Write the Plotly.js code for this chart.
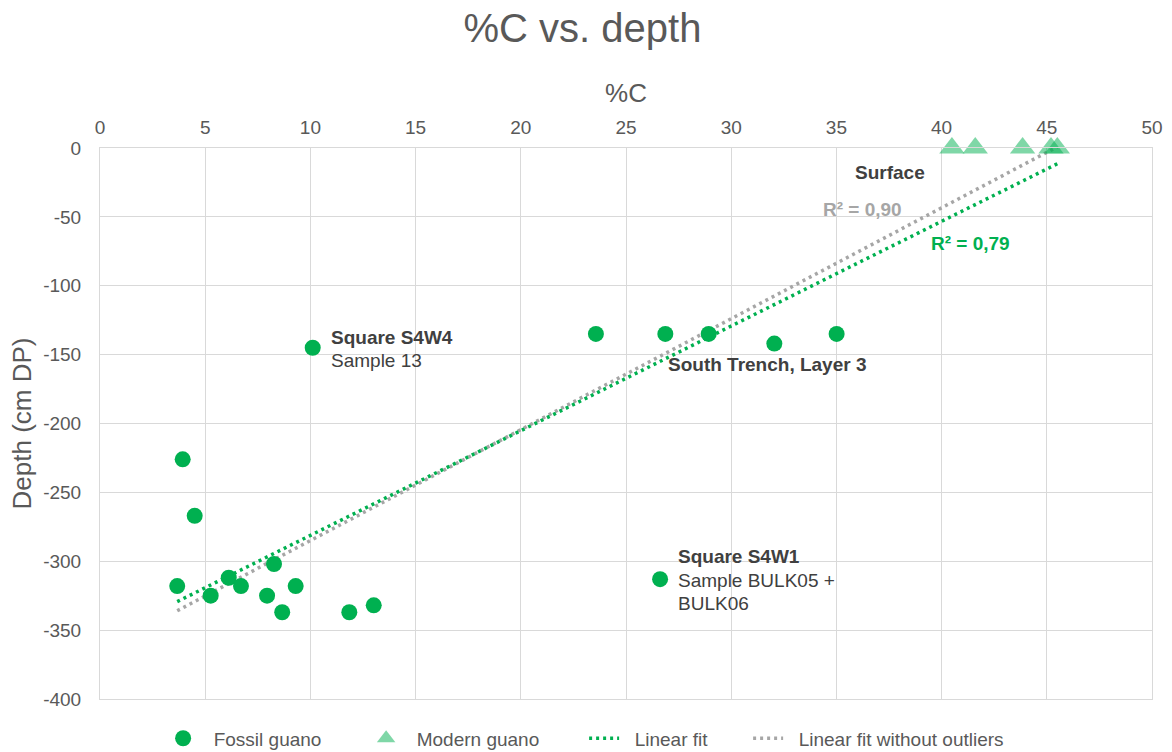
<!DOCTYPE html>
<html>
<head>
<meta charset="utf-8">
<script src="https://cdn.plot.ly/plotly-3.0.1.min.js"></script>
<style>
html,body{margin:0;padding:0;background:#ffffff;}
#chart{width:1172px;height:752px;}
</style>
</head>
<body>
<div id="chart"></div>
<script>
// ---- Data ----
const fossilCarbon = [3.93, 4.50, 3.67, 5.26, 6.12, 6.70, 8.27, 7.94, 8.66, 9.30, 11.85, 13.01, 10.11, 23.57, 26.87, 28.93, 32.05, 35.01, 26.62];
const fossilDepth  = [-226, -267, -318, -325, -312, -318, -302, -325, -337, -318, -337, -332, -145, -135, -135, -135, -142, -135, -313];
// samples left out of the "Linear fit without outliers" (Square S4W4 sample 13, Square S4W1 BULK05+BULK06)
const fossilOutlier = [false, false, false, false, false, false, false, false, false, false, false, false, true, false, false, false, false, false, true];
const modernCarbon = [40.49, 41.60, 43.85, 45.20, 45.50];
const modernDepth  = [0, 0, 0, 0, 0];

const seriesNames = ['Fossil guano', 'Modern guano', 'Linear fit', 'Linear fit without outliers'];
const r2Labels = ['R² = 0,79', 'R² = 0,90'];
const depthTickVals = [0, -50, -100, -150, -200, -250, -300, -350, -400];
const depthTickText = ['0', '-50', '-100', '-150', '-200', '-250', '-300', '-350', '-400'];

// ---- Least-squares fits ----
function linFit(xs, ys) {
  const n = xs.length;
  const mx = xs.reduce((a, b) => a + b, 0) / n;
  const my = ys.reduce((a, b) => a + b, 0) / n;
  let sxx = 0, sxy = 0;
  for (let i = 0; i < n; i++) { sxx += (xs[i] - mx) ** 2; sxy += (xs[i] - mx) * (ys[i] - my); }
  const slope = sxy / sxx;
  return { slope: slope, intercept: my - slope * mx };
}
const allX = fossilCarbon.concat(modernCarbon);
const allY = fossilDepth.concat(modernDepth);
const keepX = fossilCarbon.filter((v, i) => !fossilOutlier[i]).concat(modernCarbon);
const keepY = fossilDepth.filter((v, i) => !fossilOutlier[i]).concat(modernDepth);
const fitAll = linFit(allX, allY);
const fitKeep = linFit(keepX, keepY);
const fitAllX = [Math.min(...allX), Math.max(...allX)];
const fitKeepX = [Math.min(...keepX), Math.max(...keepX)];
const fitAllY = fitAllX.map(x => fitAll.intercept + fitAll.slope * x);
const fitKeepY = fitKeepX.map(x => fitKeep.intercept + fitKeep.slope * x);

const GREEN = '#00b050';
const GREY = '#a6a6a6';
const TXT = '#595959';
const DARK = '#404040';
const FONT = '"Liberation Sans", Arial, Helvetica, sans-serif';
const pad = s => '\u00a0\u00a0' + s;

const traces = [
  { x: fitKeepX, y: fitKeepY, type: 'scatter', mode: 'lines', name: pad(seriesNames[3]),
    line: { color: GREY, width: 3.5, dash: '3px,4px' }, legendrank: 4, legendwidth: 230, hoverinfo: 'skip' },
  { x: fitAllX, y: fitAllY, type: 'scatter', mode: 'lines', name: pad(seriesNames[2]),
    line: { color: GREEN, width: 3.5, dash: '3px,4px' }, legendrank: 3, legendwidth: 119, hoverinfo: 'skip' },
  { x: fossilCarbon, y: fossilDepth, type: 'scatter', mode: 'markers', name: pad(seriesNames[0]),
    marker: { symbol: 'circle', size: 16, color: GREEN }, legendrank: 1, legendwidth: 158, cliponaxis: false },
  { x: modernCarbon, y: modernDepth, type: 'scatter', mode: 'markers', name: pad(seriesNames[1]),
    marker: { symbol: 'triangle-up', size: 22, color: 'rgba(0,176,80,0.5)' }, legendrank: 2, legendwidth: 173, cliponaxis: false }
];

function ann(x, y, text, color, bold) {
  return { x: x, y: y, xref: 'x', yref: 'y', xanchor: 'left', yanchor: 'middle',
    text: bold ? '<b>' + text + '</b>' : text, showarrow: false,
    font: { family: FONT, size: 19, color: color } };
}

const layout = {
  width: 1172, height: 752,
  paper_bgcolor: '#ffffff', plot_bgcolor: '#ffffff',
  font: { family: FONT, color: TXT },
  margin: { l: 100, r: 20, t: 148, b: 53, autoexpand: false },
  title: { text: '%C vs. depth', xref: 'container', x: 0.497, xanchor: 'center',
    yref: 'container', y: 0.963, yanchor: 'middle', font: { family: FONT, size: 40, color: TXT } },
  xaxis: {
    range: [0, 50], side: 'top', tick0: 0, dtick: 5,
    showgrid: true, gridcolor: '#d9d9d9', gridwidth: 1, zeroline: false,
    showline: true, mirror: true, linecolor: '#d9d9d9', linewidth: 1,
    ticks: '', ticklabelstandoff: 5,
    tickfont: { family: FONT, size: 19, color: TXT },
    title: { text: '%C', standoff: 7, font: { family: FONT, size: 26, color: TXT } },
    fixedrange: true
  },
  yaxis: {
    range: [-400, 0], tickmode: 'array', tickvals: depthTickVals, ticktext: depthTickText,
    showgrid: true, gridcolor: '#d9d9d9', gridwidth: 1, zeroline: false,
    showline: true, mirror: true, linecolor: '#d9d9d9', linewidth: 1,
    ticks: '', ticklabelstandoff: 14,
    tickfont: { family: FONT, size: 19, color: TXT },
    title: { text: 'Depth (cm DP)', standoff: 4, font: { family: FONT, size: 26, color: TXT } },
    fixedrange: true
  },
  showlegend: true,
  legend: {
    orientation: 'h', x: 0.06, xanchor: 'left', y: -0.037, yanchor: 'top',
    font: { family: FONT, size: 19, color: TXT },
    bgcolor: 'rgba(0,0,0,0)', traceorder: 'normal'
  },
  annotations: [
    ann(10.88, -137.3, 'Square S4W4', DARK, true),
    ann(10.88, -154.0, 'Sample 13', DARK, false),
    ann(26.9, -156.9, 'South Trench, Layer 3', DARK, true),
    ann(27.38, -296.6, 'Square S4W1', DARK, true),
    ann(27.38, -314.0, 'Sample BULK05 +', DARK, false),
    ann(27.38, -330.9, 'BULK06', DARK, false),
    ann(35.8, -17.6, 'Surface', DARK, true),
    ann(34.25, -44.5, r2Labels[1], GREY, true),
    ann(39.42, -69.3, r2Labels[0], GREEN, true)
  ],
  hovermode: 'closest'
};

Plotly.newPlot('chart', traces, layout, { displayModeBar: false, staticPlot: true });
</script>
</body>
</html>
